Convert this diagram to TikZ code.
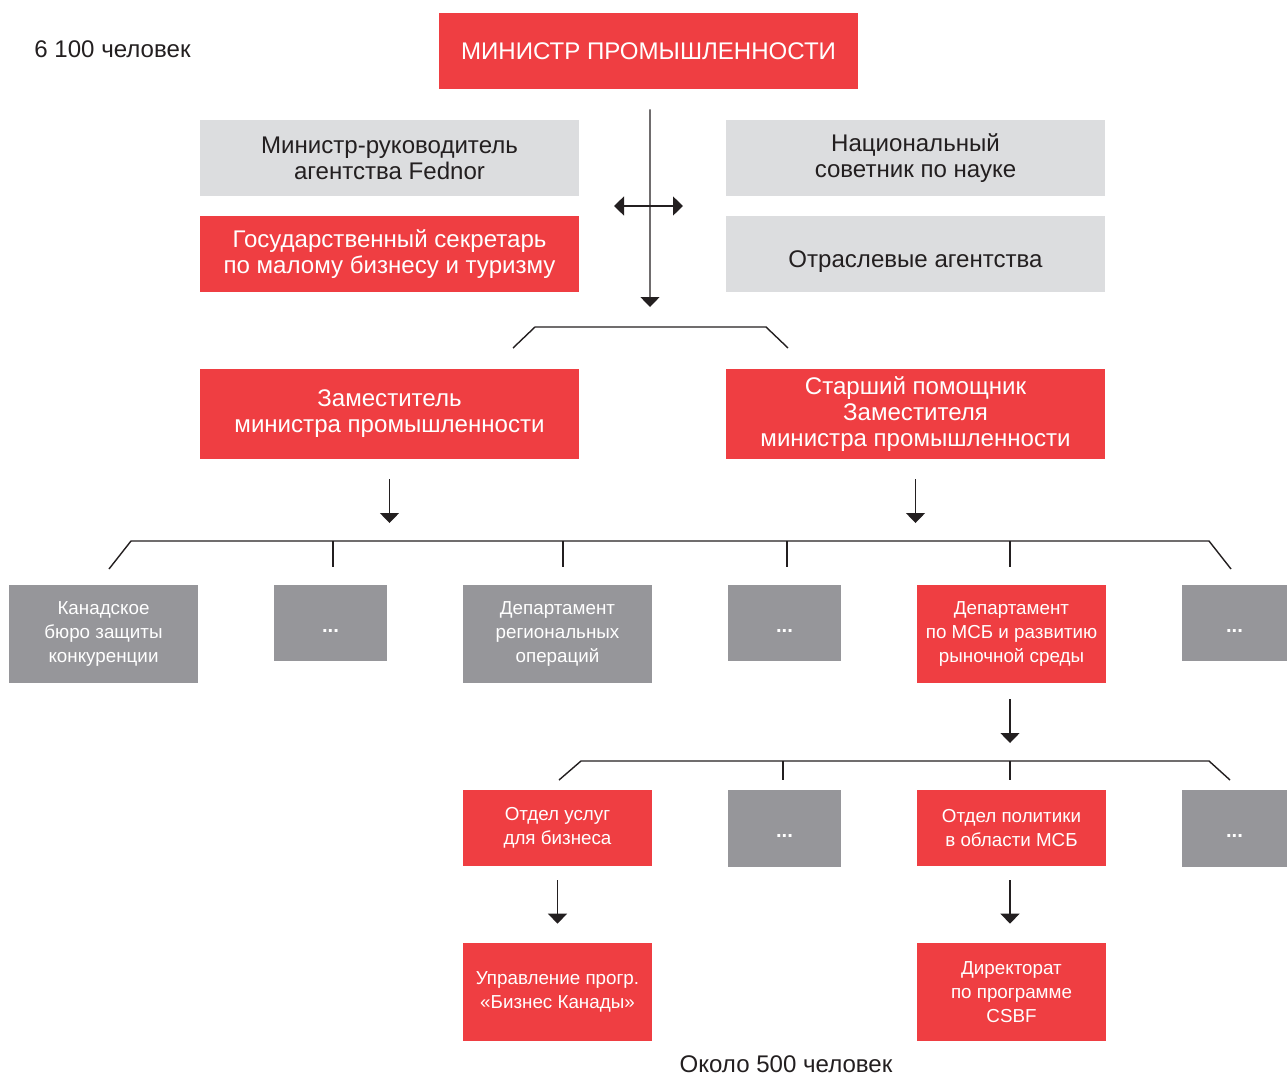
\documentclass[tikz,border=0pt]{standalone}
\usepackage{fontspec}
\setmainfont{Liberation Sans}
\usepackage{tikz}
\usetikzlibrary{arrows.meta, positioning, calc}
\definecolor{mred}{HTML}{EF3E42}
\definecolor{mlight}{HTML}{DCDDDF}
\definecolor{mgray}{HTML}{96969A}
\definecolor{mink}{HTML}{231F20}
\tikzset{
  bigtxt/.style={font=\fontsize{13.7}{14.8}\selectfont},
  smalltxt/.style={font=\fontsize{10.7}{13.6}\selectfont},
  box/.style={fill=#1, draw=none, align=center, inner sep=0pt},
  redbox/.style={box=mred, text=white},
  lightbox/.style={box=mlight, text=mink},
  graybox/.style={box=mgray, text=white},
  wide/.style={minimum width=7.58cm, minimum height=1.52cm, bigtxt},
  tall/.style={minimum width=7.58cm, minimum height=1.8cm, bigtxt},
  dept/.style={minimum width=3.78cm, minimum height=1.96cm, smalltxt},
  unit/.style={minimum width=3.78cm, minimum height=1.52cm, smalltxt},
  dots/.style={graybox, minimum width=2.26cm, minimum height=1.52cm,
    font=\fontsize{11.5}{12}\selectfont\bfseries, text height=0.36cm, text depth=0cm},
  arr/.style={-{Triangle[length=0.2cm,width=0.38cm]}, line width=0.8pt, draw=mink},
  brk/.style={line width=0.8pt, draw=mink}
}

\begin{document}
\begin{tikzpicture}[x=0.02cm, y=-0.02cm]
  \useasboundingbox (0,0) rectangle (1287,1075);

  % top level
  \node[redbox, wide, minimum width=8.38cm] (minister) at (648.5,51) {МИНИСТР ПРОМЫШЛЕННОСТИ};
  \node[bigtxt, text=mink] (staff6100) at (112.5,49) {6 100 человек};

  \node[lightbox, wide] (fednor) at (389.5,158) {Министр-руководитель\\агентства Fednor};
  \node[redbox, wide] (secr) at (389.5,254) {Государственный секретарь\\по малому бизнесу и туризму};
  \node[lightbox, wide] (science) at (915.5,158) {Национальный\\советник по науке};
  \node[lightbox, wide, text height=0.63cm, text depth=0.1cm] (agencies) at (915.5,254) {Отраслевые агентства};

  \coordinate (sideL) at (614,206);
  \coordinate (sideR) at (683,206);
  \coordinate (brkA) at (650,327);

  \draw[arr, shorten <=0.4cm, shorten >=0.4cm] ($(minister.south)+(1.5,0)$) -- (brkA);
  \draw[arr, {Triangle[length=0.2cm,width=0.38cm]}-{Triangle[length=0.2cm,width=0.38cm]}] (sideL) -- (sideR);
  \draw[brk] (513,348) -- (535,327) -- (766,327) -- (788,348);

  % deputies
  \node[redbox, tall] (deputy) at (389.5,414) {Заместитель\\министра промышленности};
  \node[redbox, tall] (senior) at (915.5,414) {Старший помощник\\Заместителя\\министра промышленности};

  \coordinate (brkB) at (650,541);
  \draw[arr, shorten <=0.4cm, shorten >=0.36cm] (deputy.south) -- (deputy.south |- brkB);
  \draw[arr, shorten <=0.4cm, shorten >=0.36cm] (senior.south) -- (senior.south |- brkB);
  \draw[brk] (109,569) -- (131,541) -- (1209,541) -- (1231,569);

  % departments
  \node[graybox, dept] (compbureau) at (103.5,634) {Канадское\\бюро защиты\\конкуренции};
  \node[dots] (dotsA) at (330.5,623) {...};
  \node[graybox, dept] (regops) at (557.5,634) {Департамент\\региональных\\операций};
  \node[dots] (dotsB) at (784.5,623) {...};
  \node[redbox, dept] (smedept) at (1011.5,634) {Департамент\\по МСБ и развитию\\рыночной среды};
  \node[dots, minimum width=2.1cm] (dotsC) at (1234.5,623) {...};

  \foreach \n/\dx in {dotsA/2.5, regops/5.5, dotsB/2.5, smedept/-1.5}
    \draw[brk, shorten >=0.36cm] ($(\n.north |- brkB)+(\dx,0)$) -- ($(\n.north)+(\dx,0)$);

  \coordinate (brkC) at (905,761);
  \draw[arr, shorten <=0.32cm, shorten >=0.36cm] ($(smedept.south)+(-1.5,0)$) -- ($(smedept.south |- brkC)+(-1.5,0)$);
  \draw[brk] (559,780) -- (581,761) -- (1209,761) -- (1230,780);

  % units
  \node[redbox, unit] (bizserv) at (557.5,828) {Отдел услуг\\для бизнеса};
  \node[dots, minimum height=1.54cm] (dotsD) at (784.5,828.5) {...};
  \node[redbox, unit] (smepolicy) at (1011.5,828) {Отдел политики\\в области МСБ};
  \node[dots, minimum width=2.1cm, minimum height=1.54cm] (dotsE) at (1234.5,828.5) {...};

  \foreach \n/\dx in {dotsD/-1.5, smepolicy/-1.5}
    \draw[brk, shorten >=0.2cm] ($(\n.north |- brkC)+(\dx,0)$) -- ($(\n.north)+(\dx,0)$);

  % programmes
  \node[redbox, dept] (bizcanada) at (557.5,992) {Управление прогр.\\«Бизнес Канады»};
  \node[redbox, dept] (csbf) at (1011.5,992) {Директорат\\по программе\\CSBF};

  \draw[arr, shorten <=0.28cm, shorten >=0.38cm] (bizserv.south) -- (bizcanada.north);
  \draw[arr, shorten <=0.28cm, shorten >=0.38cm] ($(smepolicy.south)+(-1.5,0)$) -- ($(csbf.north)+(-1.5,0)$);

  \node[bigtxt, text=mink] (staff500) at (786,1064) {Около 500 человек};
\end{tikzpicture}
\end{document}
